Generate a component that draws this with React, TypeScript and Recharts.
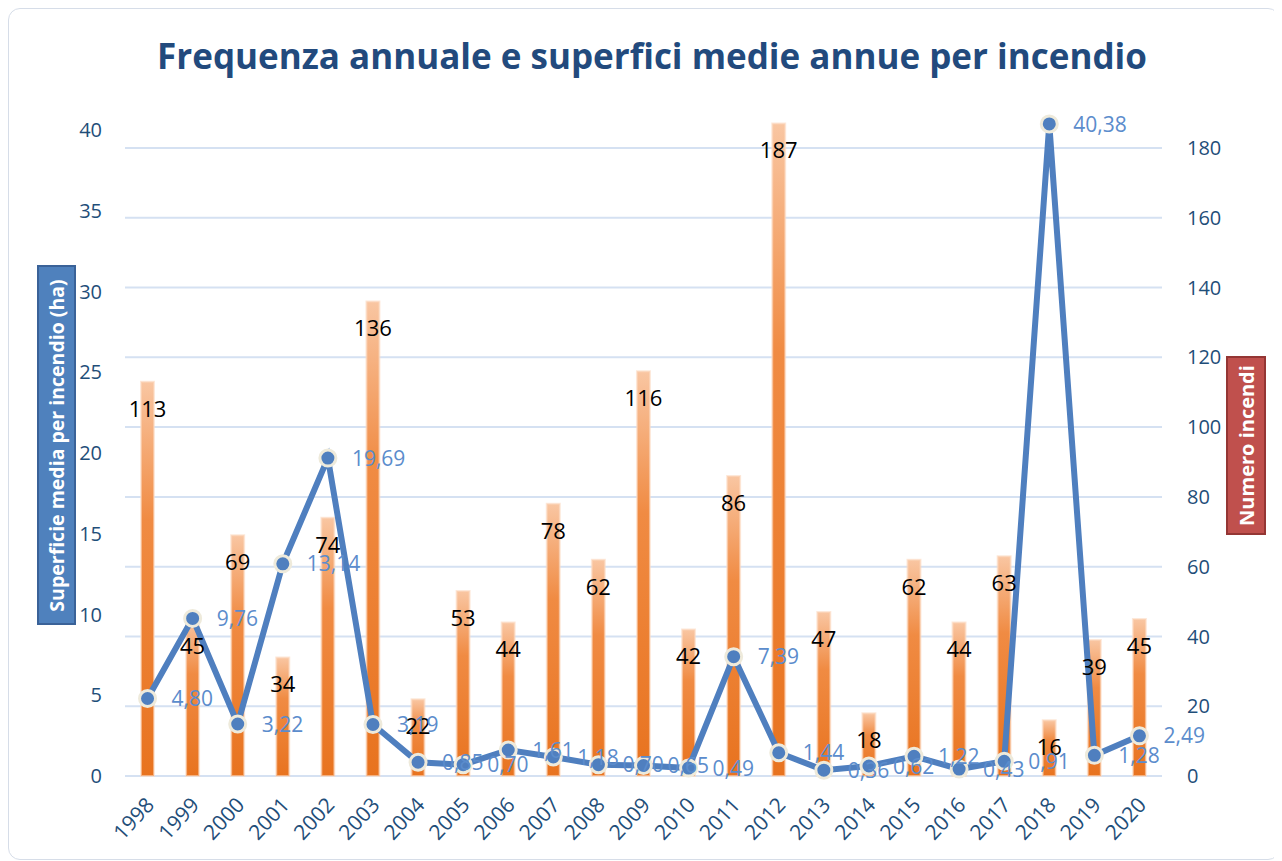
import React from "react";
import {
  ComposedChart,
  Bar,
  Line,
  XAxis,
  YAxis,
  CartesianGrid,
  LabelList,
} from "recharts";

const years = [
  "1998", "1999", "2000", "2001", "2002", "2003", "2004", "2005", "2006", "2007", "2008", "2009",
  "2010", "2011", "2012", "2013", "2014", "2015", "2016", "2017", "2018", "2019", "2020",
];
const numeroIncendi = [113, 45, 69, 34, 74, 136, 22, 53, 44, 78, 62, 116, 42, 86, 187, 47, 18, 62, 44, 63, 16, 39, 45];
const superficieMedia = [
  4.8, 9.76, 3.22, 13.14, 19.69, 3.19, 0.85, 0.7, 1.61, 1.18, 0.7, 0.65, 0.49, 7.39, 1.44, 0.36, 0.62, 1.22, 0.43,
  0.91, 40.38, 1.28, 2.49,
];
const leftTicks = [0, 5, 10, 15, 20, 25, 30, 35, 40];
const rightTicks = [0, 20, 40, 60, 80, 100, 120, 140, 160, 180];

const data = years.map((y, i) => ({ year: y, n: numeroIncendi[i], s: superficieMedia[i] }));

const FONT = "'Open Sans', 'Noto Sans', sans-serif";
const AXIS_COLOR = "#1f4e79";
const LINE_COLOR = "#4f7fbf";

const fmt = (v: number) => v.toFixed(2).replace(".", ",");

const BarLabel = (props: any) => {
  const { x, y, width, value } = props;
  return (
    <text
      x={x + width / 2}
      y={y + 29}
      textAnchor="middle"
      dominantBaseline="middle"
      fill="#000"
      fontSize={22}
      fontFamily={FONT}
    >
      {value}
    </text>
  );
};

const LineLabel = (props: any) => {
  const { x, y, value } = props;
  return (
    <text
      x={x + 24}
      y={y + 2}
      textAnchor="start"
      dominantBaseline="middle"
      fill="#5b8ccc"
      fontSize={21}
      fontFamily={FONT}
    >
      {fmt(value)}
    </text>
  );
};

const XTick = (props: any) => {
  const { x, y, payload } = props;
  return (
    <g transform={`translate(${x - 5},${y + 10})`}>
      <text
        transform="rotate(-47)"
        textAnchor="end"
        dominantBaseline="hanging"
        fill={AXIS_COLOR}
        fontSize={21}
        fontFamily={FONT}
      >
        {payload.value}
      </text>
    </g>
  );
};

export default function App() {
  return (
    <div
      style={{
        position: "relative",
        width: 1272,
        height: 852,
        border: "1px solid #d6dde8",
        borderRadius: 12,
        background: "#fff",
        boxSizing: "border-box",
      }}
    >
      <div
        style={{
          position: "absolute",
          left: 0,
          width: 1286,
          top: 23,
          textAlign: "center",
          fontFamily: FONT,
          fontWeight: 700,
          fontSize: 35,
          color: "#224a7d",
          whiteSpace: "nowrap",
        }}
      >
        Frequenza annuale e superfici medie annue per incendio
      </div>
      <ComposedChart
        width={1272}
        height={852}
        data={data}
        margin={{ top: 108, right: 0, left: 0, bottom: 24 }}
        style={{ position: "absolute", left: -1, top: -1 }}
      >
        <defs>
          <linearGradient id="barGrad" x1="0" y1="0" x2="0" y2="1">
            <stop offset="0%" stopColor="#f9c6a2" />
            <stop offset="35%" stopColor="#f08b43" />
            <stop offset="100%" stopColor="#e8731f" />
          </linearGradient>
        </defs>
        <CartesianGrid
          yAxisId="right"
          vertical={false}
          horizontalValues={rightTicks}
          stroke="#d5e1f2"
          strokeWidth={2}
        />
        <XAxis
          dataKey="year"
          axisLine={false}
          tickLine={false}
          interval={0}
          height={60}
          tick={<XTick />}
        />
        <YAxis
          yAxisId="left"
          orientation="left"
          width={117}
          domain={[0, 40.87]}
          ticks={leftTicks}
          axisLine={false}
          tickLine={false}
          tickSize={0}
          tickMargin={23}
          tick={{ fill: AXIS_COLOR, fontSize: 20, fontFamily: FONT }}
        />
        <YAxis
          yAxisId="right"
          orientation="right"
          width={118}
          domain={[0, 189.17]}
          ticks={rightTicks}
          axisLine={false}
          tickLine={false}
          tickSize={0}
          tickMargin={25}
          tick={{ fill: AXIS_COLOR, fontSize: 20, fontFamily: FONT, textAnchor: "start" }}
        />
        <Bar
          yAxisId="right"
          dataKey="n"
          barSize={13}
          fill="url(#barGrad)"
          stroke="#fbd9c0"
          strokeOpacity={0.6}
          strokeWidth={2}
          isAnimationActive={false}
        >
          <LabelList dataKey="n" content={<BarLabel />} />
        </Bar>
        <Line
          yAxisId="left"
          dataKey="s"
          type="linear"
          stroke={LINE_COLOR}
          strokeWidth={6}
          dot={{ r: 8, fill: LINE_COLOR, stroke: "#eeeadb", strokeWidth: 3 }}
          isAnimationActive={false}
        >
          <LabelList dataKey="s" content={<LineLabel />} />
        </Line>
      </ComposedChart>
      <div
        style={{
          position: "absolute",
          left: 28,
          top: 256,
          width: 39,
          height: 360,
          background: "#4f81bd",
          border: "2px solid #3a6298",
          boxSizing: "border-box",
          display: "flex",
          alignItems: "center",
          justifyContent: "center",
        }}
      >
        <div
          style={{
            transform: "rotate(-90deg)",
            whiteSpace: "nowrap",
            color: "#fff",
            fontFamily: FONT,
            fontWeight: 700,
            fontSize: 19.5,
          }}
        >
          Superficie media per incendio (ha)
        </div>
      </div>
      <div
        style={{
          position: "absolute",
          left: 1217,
          top: 347,
          width: 40,
          height: 179,
          background: "#c0504d",
          border: "2px solid #943634",
          boxSizing: "border-box",
          display: "flex",
          alignItems: "center",
          justifyContent: "center",
        }}
      >
        <div
          style={{
            transform: "rotate(-90deg)",
            whiteSpace: "nowrap",
            color: "#fff",
            fontFamily: FONT,
            fontWeight: 700,
            fontSize: 20,
          }}
        >
          Numero incendi
        </div>
      </div>
    </div>
  );
}
